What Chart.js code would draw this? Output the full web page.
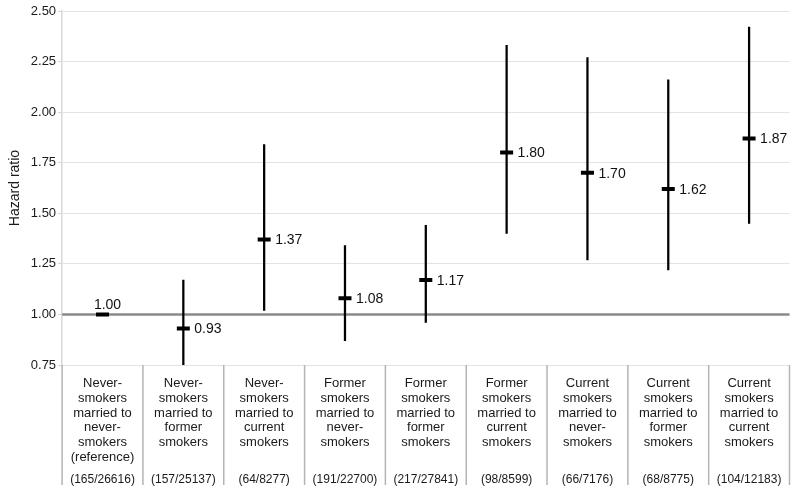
<!DOCTYPE html>
<html>
<head>
<meta charset="utf-8">
<script src="https://cdn.jsdelivr.net/npm/chart.js@4/dist/chart.umd.min.js"></script>
<style>
  html, body { margin: 0; padding: 0; background: #fff; }
  #wrap { width: 800px; height: 494px; }
</style>
</head>
<body>
<div id="wrap"><canvas id="c" width="800" height="494"></canvas></div>
<script>
const categories = [
  ["Never-", "smokers", "married to", "never-", "smokers", "(reference)"],
  ["Never-", "smokers", "married to", "former", "smokers"],
  ["Never-", "smokers", "married to", "current", "smokers"],
  ["Former", "smokers", "married to", "never-", "smokers"],
  ["Former", "smokers", "married to", "former", "smokers"],
  ["Former", "smokers", "married to", "current", "smokers"],
  ["Current", "smokers", "married to", "never-", "smokers"],
  ["Current", "smokers", "married to", "former", "smokers"],
  ["Current", "smokers", "married to", "current", "smokers"]
];
const counts = ["(165/26616)", "(157/25137)", "(64/8277)", "(191/22700)", "(217/27841)", "(98/8599)", "(66/7176)", "(68/8775)", "(104/12183)"];
const hazardRatio = [1.00, 0.93, 1.37, 1.08, 1.17, 1.80, 1.70, 1.62, 1.87];
const ciLower = [null, 0.75, 1.02, 0.87, 0.96, 1.40, 1.27, 1.22, 1.45];
const ciUpper = [null, 1.17, 1.84, 1.34, 1.44, 2.33, 2.27, 2.16, 2.42];
const yTicks = [0.75, 1.00, 1.25, 1.50, 1.75, 2.00, 2.25, 2.50];
const referenceValue = 1.00;

const ciData = ciLower.map((lo, i) => (lo === null ? null : [lo, ciUpper[i]]));

const FONT = "'Liberation Sans', Arial, Helvetica, sans-serif";

const decorPlugin = {
  id: 'decor',
  beforeDatasetsDraw(chart) {
    const { ctx, chartArea, scales } = chart;
    const y = scales.y.getPixelForValue(referenceValue);
    ctx.save();
    ctx.strokeStyle = '#8a8a8a';
    ctx.lineWidth = 2.5;
    ctx.beginPath();
    ctx.moveTo(chartArea.left, y);
    ctx.lineTo(chartArea.right, y);
    ctx.stroke();
    ctx.restore();
  },
  afterDatasetsDraw(chart) {
    const { ctx, chartArea, scales } = chart;
    const x = scales.x;
    const x2 = scales.x2;
    ctx.save();
    ctx.strokeStyle = '#b4b4b4';
    ctx.lineWidth = 1.5;
    const n = categories.length;
    for (let i = 0; i <= n; i++) {
      let bx;
      if (i === 0) bx = chartArea.left;
      else if (i === n) bx = chartArea.right;
      else bx = (x.getPixelForValue(i - 1) + x.getPixelForValue(i)) / 2;
      ctx.beginPath();
      ctx.moveTo(bx, chartArea.bottom);
      ctx.lineTo(bx, x2.bottom - 2);
      ctx.stroke();
    }
    const meta = chart.getDatasetMeta(1);
    ctx.fillStyle = '#111';
    ctx.font = '14px ' + FONT;
    meta.data.forEach((pt, i) => {
      const txt = hazardRatio[i].toFixed(2);
      if (hazardRatio[i] === referenceValue) {
        ctx.textAlign = 'center';
        ctx.textBaseline = 'bottom';
        ctx.fillText(txt, pt.x + 5, pt.y - 2);
      } else {
        ctx.textAlign = 'left';
        ctx.textBaseline = 'middle';
        ctx.fillText(txt, pt.x + 11, pt.y + 1);
      }
    });
    ctx.restore();
  }
};

new Chart(document.getElementById('c'), {
  type: 'bar',
  data: {
    labels: categories,
    datasets: [
      {
        type: 'bar',
        data: ciData,
        backgroundColor: '#000',
        borderWidth: 0,
        barThickness: 1.6,
        grouped: false,
        order: 2
      },
      {
        type: 'line',
        data: hazardRatio,
        showLine: false,
        pointStyle: 'line',
        pointRadius: 6.5,
        pointBorderWidth: 4,
        borderColor: '#000',
        backgroundColor: '#000',
        order: 1
      }
    ]
  },
  options: {
    responsive: false,
    animation: false,
    events: [],
    layout: { padding: { top: 11, right: 8, bottom: 7, left: 0 } },
    plugins: { legend: { display: false }, tooltip: { enabled: false } },
    scales: {
      x: {
        type: 'category',
        position: 'bottom',
        offset: true,
        grid: { display: false, drawTicks: false },
        border: { display: false },
        afterFit(scale) { scale.height = 100; },
        ticks: {
          color: '#1a1a1a',
          font: { family: FONT, size: 13, lineHeight: 1.14 },
          padding: 11,
          maxRotation: 0,
          autoSkip: false
        }
      },
      x2: {
        type: 'category',
        position: 'bottom',
        labels: counts,
        offset: true,
        grid: { display: false, drawTicks: false },
        border: { display: false },
        afterFit(scale) { scale.height = 22; },
        ticks: {
          color: '#1a1a1a',
          font: { family: FONT, size: 12, lineHeight: 1.2 },
          padding: 7,
          maxRotation: 0,
          autoSkip: false
        }
      },
      y: {
        min: yTicks[0],
        max: yTicks[yTicks.length - 1],
        afterBuildTicks(scale) { scale.ticks = yTicks.map(v => ({ value: v })); },
        grid: { color: '#e3e3e3', lineWidth: 1, drawTicks: true, tickLength: 4, tickColor: '#d5d5d5' },
        border: { display: true, color: '#d8d8d8', width: 1.5 },
        ticks: {
          color: '#1a1a1a',
          font: { family: FONT, size: 13 },
          padding: 2,
          callback: v => Number(v).toFixed(2)
        },
        title: {
          display: true,
          text: 'Hazard ratio',
          color: '#1a1a1a',
          font: { family: FONT, size: 14 },
          padding: { top: 7, bottom: 5 }
        }
      }
    }
  },
  plugins: [decorPlugin]
});
</script>
</body>
</html>
